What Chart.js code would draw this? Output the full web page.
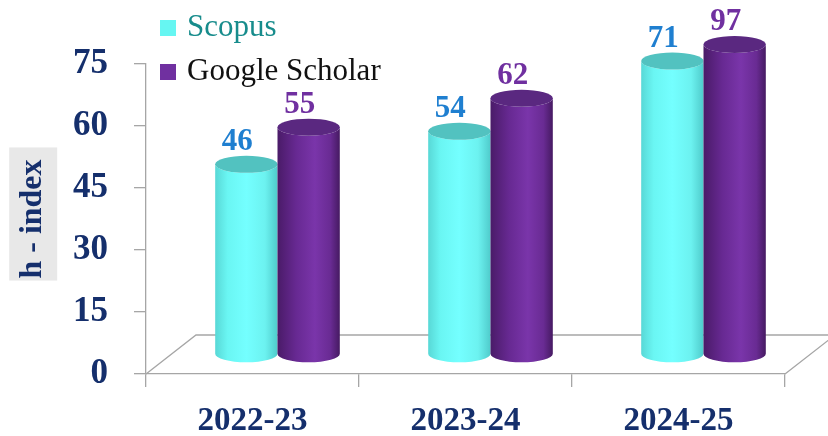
<!DOCTYPE html>
<html>
<head>
<meta charset="utf-8">
<script src="https://cdn.jsdelivr.net/npm/chart.js@4.4.1/dist/chart.umd.min.js"></script>
<style>
  html, body { margin: 0; padding: 0; background: #fff; }
  #wrap { width: 828px; height: 436px; position: relative; }
</style>
</head>
<body>
<div id="wrap"><canvas id="hChart"></canvas></div>
<script>
const categories = ['2022-23', '2023-24', '2024-25'];
const scopusValues = [46, 54, 71];
const scholarValues = [55, 62, 97];
const seriesNames = ['Scopus', 'Google Scholar'];
const yMax = 75;
const yStep = 15;

const navy = '#152f6c';
const serif = "'Liberation Serif', 'Times New Roman', serif";

// 3D floor depth
const DX = 50;
const DY = -39;

const looks = [
  {
    stops: [[0, '#58d8d6'], [0.2, '#6af6f3'], [0.5, '#74ffff'], [0.8, '#6cf2f0'], [1, '#4fcbcb']],
    top: '#52c2c0',
    label: '#1f7fd0',
    swatch: '#66f6f2',
    text: '#178c8c'
  },
  {
    stops: [[0, '#4a1b68'], [0.3, '#672992'], [0.6, '#7a35aa'], [0.85, '#692b93'], [1, '#461a62']],
    top: '#5a2880',
    label: '#7030a0',
    swatch: '#7030a0',
    text: '#111111'
  }
];

const cylinders = {
  id: 'cylinders',
  beforeDraw(chart) {
    // grey box behind the y axis title
    const c = chart.ctx;
    const ys = chart.scales.y;
    const area = chart.chartArea;
    c.save();
    c.font = 'bold 32px ' + serif;
    const tw = c.measureText('h - index').width;
    const cx = ys.left + 14 + 19.2;
    const cy = (area.top + area.bottom) / 2 - 5;
    c.fillStyle = '#e8e8e8';
    c.fillRect(cx - 24, cy - tw / 2 - 7, 48, tw + 14);
    c.restore();
  },
  beforeDatasetsDraw(chart) {
    const c = chart.ctx;
    const a = chart.chartArea;
    c.save();
    c.strokeStyle = '#a6a6a6';
    c.lineWidth = 1.3;
    c.beginPath();
    c.moveTo(a.left, a.bottom);
    c.lineTo(a.left + DX, a.bottom + DY);
    c.lineTo(a.right + DX, a.bottom + DY);
    c.lineTo(a.right, a.bottom);
    c.stroke();
    c.restore();
  },
  afterDatasetsDraw(chart) {
    const c = chart.ctx;
    const ys = chart.scales.y;
    const topLimit = ys.getPixelForValue(yMax) + DY / 2;
    const ry = 8.5;
    const labelJobs = [];
    chart.data.datasets.forEach((ds, di) => {
      const meta = chart.getDatasetMeta(di);
      const look = looks[di];
      meta.data.forEach((bar, i) => {
        const w = bar.width;
        const cx = bar.x + DX / 2;
        const rx = w / 2;
        const bottom = bar.base + DY / 2;
        const top = Math.max(bar.y + DY / 2, topLimit);
        const g = c.createLinearGradient(cx - rx, 0, cx + rx, 0);
        look.stops.forEach(s => g.addColorStop(s[0], s[1]));
        c.save();
        c.beginPath();
        c.moveTo(cx - rx, top);
        c.lineTo(cx - rx, bottom);
        c.ellipse(cx, bottom, rx, ry, 0, Math.PI, 0, true);
        c.lineTo(cx + rx, top);
        c.ellipse(cx, top, rx, ry, 0, 0, Math.PI, false);
        c.closePath();
        c.fillStyle = g;
        c.fill();
        c.beginPath();
        c.ellipse(cx, top, rx, ry, 0, 0, Math.PI * 2);
        c.fillStyle = look.top;
        c.fill();
        c.restore();
        labelJobs.push({x: cx - 9, y: top - ry - 6, text: String(ds.data[i]), color: look.label});
      });
    });
    c.save();
    c.font = 'bold 31px ' + serif;
    c.textAlign = 'center';
    c.textBaseline = 'alphabetic';
    labelJobs.forEach(j => {
      c.fillStyle = j.color;
      c.fillText(j.text, j.x, j.y);
    });
    c.restore();
  },
  afterDraw(chart) {
    // legend, stacked at top left
    const c = chart.ctx;
    c.save();
    c.font = '31px ' + serif;
    c.textBaseline = 'middle';
    chart.data.datasets.forEach((ds, di) => {
      const y = 28 + di * 44;
      c.fillStyle = looks[di].swatch;
      c.fillRect(160, y - 8, 16, 16);
      c.fillStyle = looks[di].text;
      c.fillText(ds.label, 187, y);
    });
    c.restore();
  }
};

new Chart(document.getElementById('hChart'), {
  type: 'bar',
  data: {
    labels: categories,
    datasets: [
      {label: seriesNames[0], data: scopusValues, backgroundColor: 'rgba(0,0,0,0)'},
      {label: seriesNames[1], data: scholarValues, backgroundColor: 'rgba(0,0,0,0)'}
    ]
  },
  options: {
    responsive: true,
    maintainAspectRatio: false,
    animation: false,
    categoryPercentage: 0.585,
    barPercentage: 1.0,
    layout: {
      padding: {top: 64, right: 43, left: 0, bottom: 0}
    },
    plugins: {
      legend: {display: false},
      tooltip: {enabled: false}
    },
    scales: {
      x: {
        grid: {drawOnChartArea: false, tickLength: 13, color: '#a6a6a6', offset: true, lineWidth: 1.3},
        border: {color: '#a6a6a6', width: 1.3},
        ticks: {
          color: navy,
          padding: 15,
          font: {family: serif, size: 33, weight: 'bold'}
        },
        afterFit(scale) {
          scale.height = 62;
        }
      },
      y: {
        min: 0,
        max: yMax,
        grid: {drawOnChartArea: false, tickLength: 12, color: '#a6a6a6', lineWidth: 1.3},
        border: {color: '#a6a6a6', width: 1.3},
        ticks: {
          stepSize: yStep,
          color: navy,
          padding: 26,
          font: {family: serif, size: 35, weight: 'bold'}
        },
        title: {
          display: true,
          text: 'h - index',
          color: navy,
          padding: {top: 14, bottom: 0},
          font: {family: serif, size: 32, weight: 'bold'}
        },
        afterFit(scale) {
          scale.width = 146;
        }
      }
    }
  },
  plugins: [cylinders]
});
</script>
</body>
</html>
